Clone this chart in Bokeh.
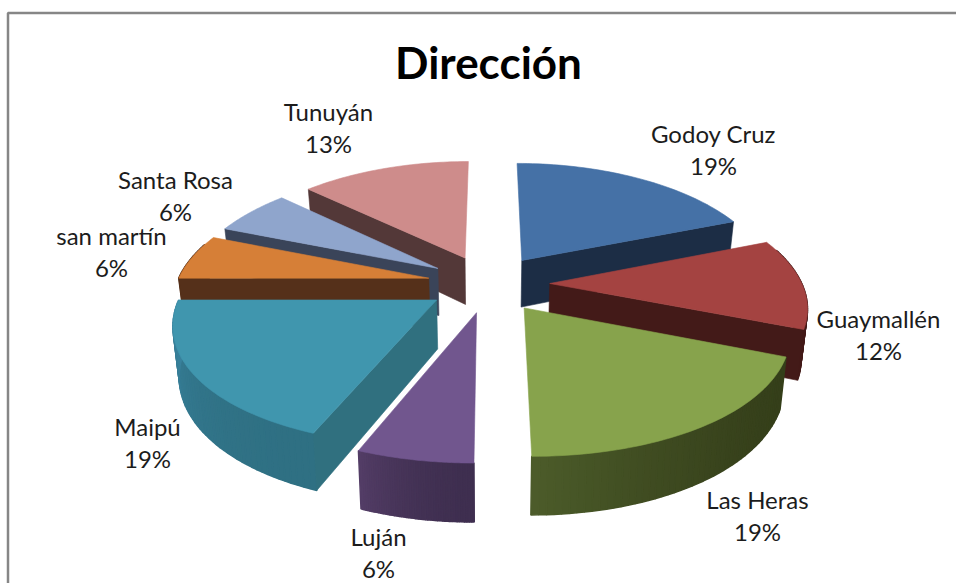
import math
from bokeh.plotting import figure
from bokeh.embed import file_html
from bokeh.resources import INLINE
from bokeh.core.properties import value

# --- chart data ---
categories = ["Godoy Cruz", "Guaymallén", "Las Heras", "Luján", "Maipú", "san martín", "Santa Rosa", "Tunuyán"]
shares = [19, 12, 19, 6, 19, 6, 6, 13]
title_text = "Dirección"

# --- colours ---
top_colors = ["#4571A6", "#A44341", "#87A34C", "#71568E", "#4096AE", "#D67F37", "#8FA5CC", "#CE8C8B"]
radial_colors = ["#1C2D45", "#431A18", "#384219", "#3F2F50", "#30707F", "#55301A", "#3A4459", "#533838"]
wall_start = ["#1C2D45", "#431A18", "#353F1A", "#3F2F50", "#2F7083", "#55301A", "#3A4459", "#533838"]
wall_end = ["#1C2D45", "#431A18", "#4C5C2A", "#533D66", "#3A84A0", "#55301A", "#3A4459", "#533838"]

# --- label centres in page pixels ---
label_x = [713, 878, 757, 378, 147, 111, 175, 328]
label_y = [133, 318, 499, 536, 426, 235, 179, 111]

# --- projection of the exploded 3-D pie ---
CX, CY = 488, 283
RX, RY = 252, 118
KX, KY = 0.17, 0.15
DEPTH = 48
EXPLODE = 0.243


def project(x, y, z=0.0):
    sx = CX + RX * x / (1 - KX * y)
    sy = CY + RY * y / (1 - KY * y) + DEPTH * z / (1 - KY * y)
    sx = CX + (sx - CX) * (1 - 0.02 * z)
    return sx, sy


def mix(a, b, t):
    pa = [int(a[i:i + 2], 16) for i in (1, 3, 5)]
    pb = [int(b[i:i + 2], 16) for i in (1, 3, 5)]
    return "#%02x%02x%02x" % tuple(round(u + (v - u) * t) for u, v in zip(pa, pb))


p = figure(width=956, height=583, x_range=(0, 956), y_range=(583, 0),
           toolbar_location=None, output_backend="svg", min_border=0,
           background_fill_color="white", border_fill_color="white", outline_line_color=None)
p.axis.visible = False
p.grid.visible = False

# chart frame
p.line([7.5, 7.5, 956], [583, 12.5, 12.5], line_color="#868686", line_width=2.5)

# slices
total = sum(shares)
cum = 0
slices = []
for i, v in enumerate(shares):
    a0 = cum / total * 2 * math.pi
    cum += v
    a1 = cum / total * 2 * math.pi
    mid = (a0 + a1) / 2
    ox, oy = EXPLODE * math.sin(mid), -EXPLODE * math.cos(mid)
    slices.append((oy, i, a0, a1, ox, oy))

for _, i, a0, a1, ox, oy in sorted(slices):
    n = 48
    ang = [a0 + (a1 - a0) * k / n for k in range(n + 1)]
    rim = [(ox + math.sin(a), oy - math.cos(a)) for a in ang]

    # outer wall in narrow strips, so that it can carry its shading;
    # the strips on the far side of the pie are hidden, so they are left out
    for k in range(n):
        if math.cos((ang[k] + ang[k + 1]) / 2) > 0.3:
            continue
        t = ((k + 0.5) / n) ** 2
        c = mix(wall_start[i], wall_end[i], t)
        pts = [project(*rim[k], 0), project(*rim[k + 1], 0), project(*rim[k + 1], 1), project(*rim[k], 1)]
        p.patch([q[0] for q in pts], [q[1] for q in pts], fill_color=c, line_color=c, line_width=1.5)

    # radial cut faces that look towards the viewer
    for a, edge, vis in ((a0, rim[0], -math.sin(a0)), (a1, rim[-1], math.sin(a1))):
        if vis > 1e-6:
            pts = [project(ox, oy, 0), project(*edge, 0), project(*edge, 1), project(ox, oy, 1)]
            p.patch([q[0] for q in pts], [q[1] for q in pts], fill_color=radial_colors[i],
                    line_color=radial_colors[i], line_width=0.6)

    # top face
    pts = [project(ox, oy, 0)] + [project(*r, 0) for r in rim]
    p.patch([q[0] for q in pts], [q[1] for q in pts], fill_color=top_colors[i],
            line_color=top_colors[i], line_width=0.6)

# labels
tx, ty, tt = [], [], []
for c, v, x, y in zip(categories, shares, label_x, label_y):
    tx += [x, x]
    ty += [y, y + 32]
    tt += [c, f"{v}%"]
p.text(tx, ty, text=tt, text_font=value("Lato"), text_font_size="24px", text_color="#1c1c1c",
       text_align="center", text_baseline="middle")
p.text([488], [61], text=[title_text], text_font=value("Lato"), text_font_size="44px",
       text_font_style="bold", text_color="#000000", text_align="center", text_baseline="middle")

open("out.html", "w").write(file_html(p, INLINE))
